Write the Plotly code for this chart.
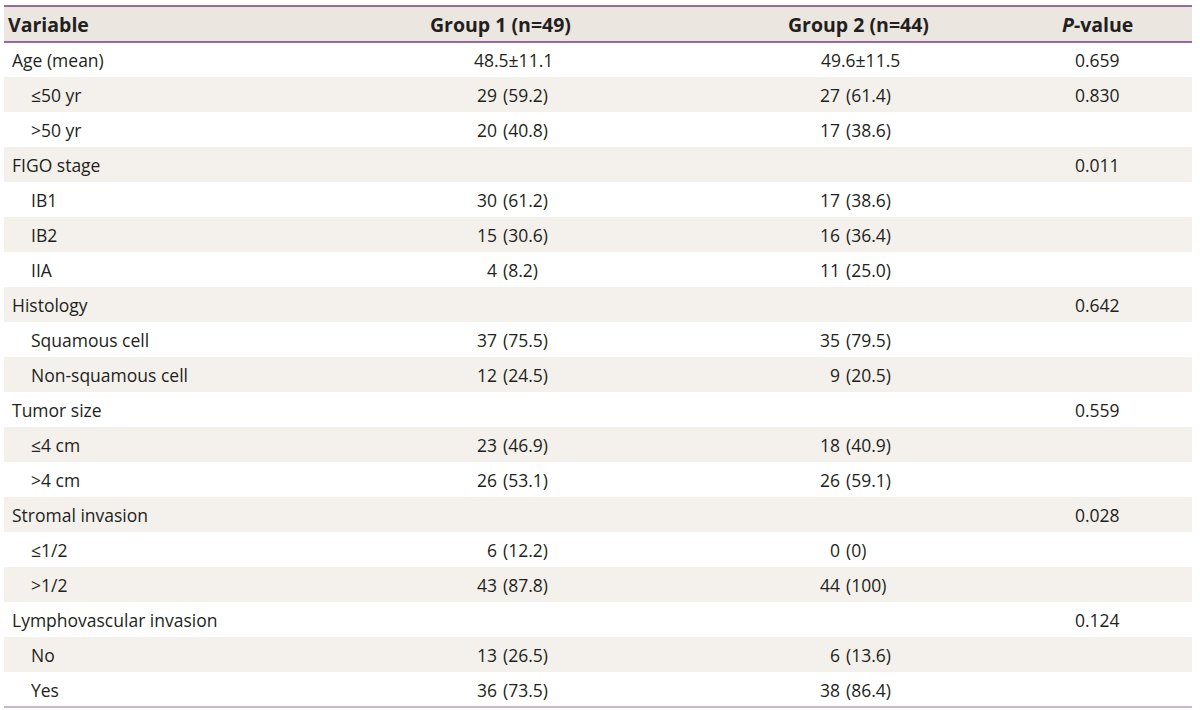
import plotly.graph_objects as go

# ---------------- data ----------------
headers = ["Variable", "Group 1 (n=49)", "Group 2 (n=44)", "<i>P</i>-value"]
variables = ["Age (mean)", "≤50 yr", ">50 yr", "FIGO stage", "IB1", "IB2", "IIA",
             "Histology", "Squamous cell", "Non-squamous cell", "Tumor size",
             "≤4 cm", ">4 cm", "Stromal invasion", "≤1/2", ">1/2",
             "Lymphovascular invasion", "No", "Yes"]
indent = [0, 1, 1, 0, 1, 1, 1, 0, 1, 1, 0, 1, 1, 0, 1, 1, 0, 1, 1]
group1 = ["48.5±11.1", "29 (59.2)", "20 (40.8)", "", "30 (61.2)", "15 (30.6)", "4 (8.2)",
          "", "37 (75.5)", "12 (24.5)", "", "23 (46.9)", "26 (53.1)", "",
          "6 (12.2)", "43 (87.8)", "", "13 (26.5)", "36 (73.5)"]
group2 = ["49.6±11.5", "27 (61.4)", "17 (38.6)", "", "17 (38.6)", "16 (36.4)", "11 (25.0)",
          "", "35 (79.5)", "9 (20.5)", "", "18 (40.9)", "26 (59.1)", "",
          "0 (0)", "44 (100)", "", "6 (13.6)", "38 (86.4)"]
pvals = ["0.659", "0.830", "", "0.011", "", "", "", "0.642", "", "", "0.559", "", "",
         "0.028", "", "", "0.124", "", ""]

# ---------------- layout params ----------------
W, H = 1200, 710
X0, X1 = 4, 1192
TOP = 6
HEAD_H = 36
ROW_H = 35
FONT = "Open Sans"
FS = 17.5
FS_HEAD = 19.5
TXT = "#231f20"
HEAD_BG = "#ebe6df"
BAND_BG = "#f4f1ec"
LINE_DARK = "#7d3a82"
LINE_LIGHT = "#b79dbf"

var_x = [10, 29]
head_var_x = 6
g1_paren, g1_end = 502, 555
g2_paren, g2_end = 845, 902
g1_head, g2_head, p_center = 500, 858, 1097

fig = go.Figure()
shapes = []
ann = []

body_top = TOP + HEAD_H
shapes.append(dict(type="rect", xref="x", yref="y", x0=X0, x1=X1, y0=TOP, y1=body_top,
                   fillcolor=HEAD_BG, line=dict(width=0), layer="below"))
for i in range(len(variables)):
    if i % 2 == 1:
        y0 = body_top + i * ROW_H
        shapes.append(dict(type="rect", xref="x", yref="y", x0=X0, x1=X1, y0=y0, y1=y0 + ROW_H,
                           fillcolor=BAND_BG, line=dict(width=0), layer="below"))
for y, c in [(TOP, LINE_DARK), (body_top, LINE_DARK),
             (body_top + len(variables) * ROW_H, LINE_LIGHT)]:
    shapes.append(dict(type="line", xref="x", yref="y", x0=X0, x1=X1, y0=y, y1=y,
                       line=dict(color=c, width=1.3)))

def add(text, x, y, anchor, bold=False):
    ann.append(dict(text=f"<b>{text}</b>" if bold else text, x=x, y=y, xref="x", yref="y",
                    xanchor=anchor, yanchor="middle", showarrow=False,
                    font=dict(family=FONT, size=FS_HEAD if bold else FS, color=TXT)))

hy = TOP + HEAD_H / 2
add(headers[0], head_var_x, hy, "left", True)
add(headers[1], g1_head, hy, "center", True)
add(headers[2], g2_head, hy, "center", True)
add(headers[3], p_center, hy, "center", True)

def add_value(s, y, paren_x, end_x):
    if not s:
        return
    if " (" in s:
        k = s.index(" (")
        add(s[:k], paren_x - 3, y, "right")
        add(s[k + 1:], paren_x - 1.5, y, "left")
    else:
        add(s, end_x, y, "right")

for i, v in enumerate(variables):
    y = body_top + i * ROW_H + ROW_H / 2
    add(v, var_x[indent[i]], y, "left")
    add_value(group1[i], y, g1_paren, g1_end)
    add_value(group2[i], y, g2_paren, g2_end)
    if pvals[i]:
        add(pvals[i], p_center, y, "center")

fig.update_layout(
    width=W, height=H, margin=dict(l=0, r=0, t=0, b=0),
    paper_bgcolor="white", plot_bgcolor="white",
    xaxis=dict(range=[0, W], visible=False, fixedrange=True),
    yaxis=dict(range=[H, 0], visible=False, fixedrange=True),
    shapes=shapes, annotations=ann, showlegend=False,
)
fig.write_html("out.html", config={"displayModeBar": False},
               post_script="document.body.style.margin='0';document.body.style.overflow='hidden';")
